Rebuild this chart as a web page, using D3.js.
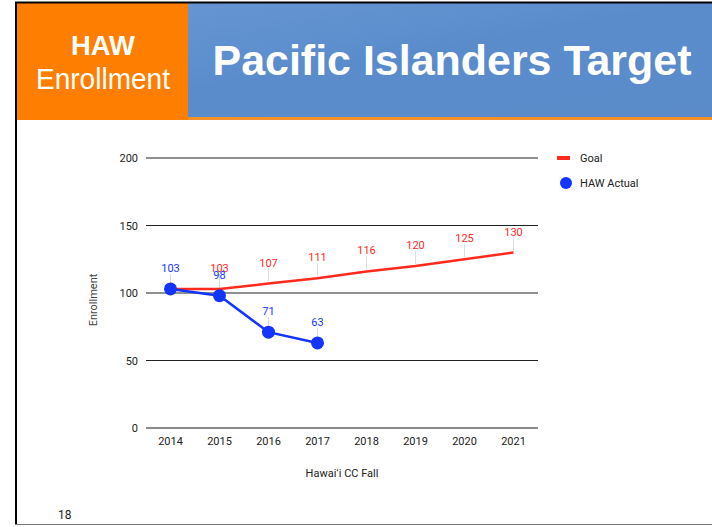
<!DOCTYPE html>
<html><head><meta charset="utf-8">
<script src="https://cdn.jsdelivr.net/npm/d3@7"></script>
<style>body{margin:0;background:#fff;}svg{display:block;}</style>
</head><body>
<svg id="c" width="712" height="527"></svg>
<script>
const years = ["2014","2015","2016","2017","2018","2019","2020","2021"];
const goal = [103,103,107,111,116,120,125,130];
const actualYears = ["2014","2015","2016","2017"];
const actual = [103,98,71,63];
const yTicks = [0,50,100,150,200];
const goalLabelShown = [false,true,true,true,true,true,true,true];

const svg = d3.select("#c");
const defs = svg.append("defs");
const g1 = defs.append("linearGradient").attr("id","hdr").attr("x1","0").attr("y1","0").attr("x2","1").attr("y2","1");
g1.append("stop").attr("offset","0").attr("stop-color","#6a98d4");
g1.append("stop").attr("offset","0.5").attr("stop-color","#5a8ccc");
g1.append("stop").attr("offset","1").attr("stop-color","#5b8bc9");

// slide frame
svg.append("rect").attr("x",0).attr("y",0).attr("width",712).attr("height",527).attr("fill","#fff");
// header
svg.append("rect").attr("x",17).attr("y",3).attr("width",695).attr("height",117).attr("fill","url(#hdr)");
svg.append("rect").attr("x",188).attr("y",117).attr("width",524).attr("height",3).attr("fill","#f4902a");
svg.append("rect").attr("x",17).attr("y",3).attr("width",171).attr("height",117).attr("fill","#fd7e00");
svg.append("line").attr("x1",15).attr("x2",712).attr("y1",2.5).attr("y2",2.5).attr("stroke","#000").attr("stroke-width",2);
svg.append("line").attr("x1",16).attr("x2",16).attr("y1",2).attr("y2",525).attr("stroke","#000").attr("stroke-width",2);
svg.append("line").attr("x1",15).attr("x2",712).attr("y1",524.5).attr("y2",524.5).attr("stroke","#777").attr("stroke-width",1);

const hf = "Liberation Sans, Arial, sans-serif";
svg.append("text").attr("x",103).attr("y",55).attr("text-anchor","middle").attr("fill","#fff")
  .attr("font-family",hf).attr("font-weight","bold").attr("font-size",28)
  .attr("textLength",64).attr("lengthAdjust","spacingAndGlyphs").text("HAW");
svg.append("text").attr("x",103).attr("y",89).attr("text-anchor","middle").attr("fill","#fff")
  .attr("font-family",hf).attr("font-size",29)
  .attr("textLength",134).attr("lengthAdjust","spacingAndGlyphs").text("Enrollment");
svg.append("text").attr("x",452).attr("y",75).attr("text-anchor","middle").attr("fill","#fff")
  .attr("font-family",hf).attr("font-weight","bold").attr("font-size",42)
  .attr("textLength",479).attr("lengthAdjust","spacingAndGlyphs").text("Pacific Islanders Target");

// chart
const font = "Roboto, Arial, sans-serif";
const x = d3.scalePoint().domain(years).range([146,538]).padding(0.5);
const y = d3.scaleLinear().domain([0,200]).range([428,158]);

const gy = svg.append("g");
yTicks.forEach(t=>{
  gy.append("line").attr("x1",146).attr("x2",538).attr("y1",y(t)).attr("y2",y(t))
    .attr("stroke", t===0 ? "#666" : "#222").attr("stroke-width", t===0 ? 1.5 : 1.2);
  gy.append("text").attr("x",138).attr("y",y(t)+4).attr("text-anchor","end")
    .attr("font-family",font).attr("font-size",11).attr("fill","#222").text(t);
});
years.forEach(yr=>{
  svg.append("text").attr("x",x(yr)).attr("y",445).attr("text-anchor","middle")
    .attr("font-family",font).attr("font-size",11).attr("fill","#222").text(yr);
});
svg.append("text").attr("x",342).attr("y",477).attr("text-anchor","middle")
  .attr("font-family",font).attr("font-size",11).attr("fill","#222").text("Hawaiʻi CC Fall");
svg.append("text").attr("transform","translate(97,300) rotate(-90)").attr("text-anchor","middle")
  .attr("font-family",font).attr("font-size",11).attr("fill","#444").text("Enrollment");

// label leader lines
const red = "#ff2a1e", blue = "#1434ff";
years.forEach((yr,i)=>{
  if(!goalLabelShown[i]) return;
  svg.append("line").attr("x1",x(yr)).attr("x2",x(yr)).attr("y1",y(goal[i])-15).attr("y2",y(goal[i])-2)
    .attr("stroke","#ddd").attr("stroke-width",1);
});
actualYears.forEach((yr,i)=>{
  svg.append("line").attr("x1",x(yr)).attr("x2",x(yr)).attr("y1",y(actual[i])-15).attr("y2",y(actual[i])-6)
    .attr("stroke","#ddd").attr("stroke-width",1);
});

// goal line
svg.append("path").datum(goal).attr("fill","none").attr("stroke",red).attr("stroke-width",2.5)
  .attr("d", d3.line().x((d,i)=>x(years[i])).y(d=>y(d)));
// actual line
svg.append("path").datum(actual).attr("fill","none").attr("stroke",blue).attr("stroke-width",2.5)
  .attr("d", d3.line().x((d,i)=>x(actualYears[i])).y(d=>y(d)));
svg.selectAll("circle.a").data(actual).enter().append("circle")
  .attr("cx",(d,i)=>x(actualYears[i])).attr("cy",d=>y(d)).attr("r",6.5).attr("fill",blue);

// labels
years.forEach((yr,i)=>{
  if(!goalLabelShown[i]) return;
  svg.append("text").attr("x",x(yr)).attr("y",y(goal[i])-17).attr("text-anchor","middle")
    .attr("font-family",font).attr("font-size",11).attr("fill",red).text(goal[i]);
});
actualYears.forEach((yr,i)=>{
  svg.append("text").attr("x",x(yr)).attr("y",y(actual[i])-17).attr("text-anchor","middle")
    .attr("font-family",font).attr("font-size",11).attr("fill",blue).text(actual[i]);
});

// legend
svg.append("rect").attr("x",557).attr("y",156).attr("width",13).attr("height",4).attr("fill",red);
svg.append("text").attr("x",580).attr("y",162).attr("font-family",font).attr("font-size",11).attr("fill","#222").text("Goal");
svg.append("circle").attr("cx",566).attr("cy",183).attr("r",6).attr("fill",blue);
svg.append("text").attr("x",580).attr("y",187).attr("font-family",font).attr("font-size",11).attr("fill","#222").text("HAW Actual");

svg.append("text").attr("x",58).attr("y",519).attr("font-family",font).attr("font-size",12).attr("fill","#222").text("18");
</script>
</body></html>
